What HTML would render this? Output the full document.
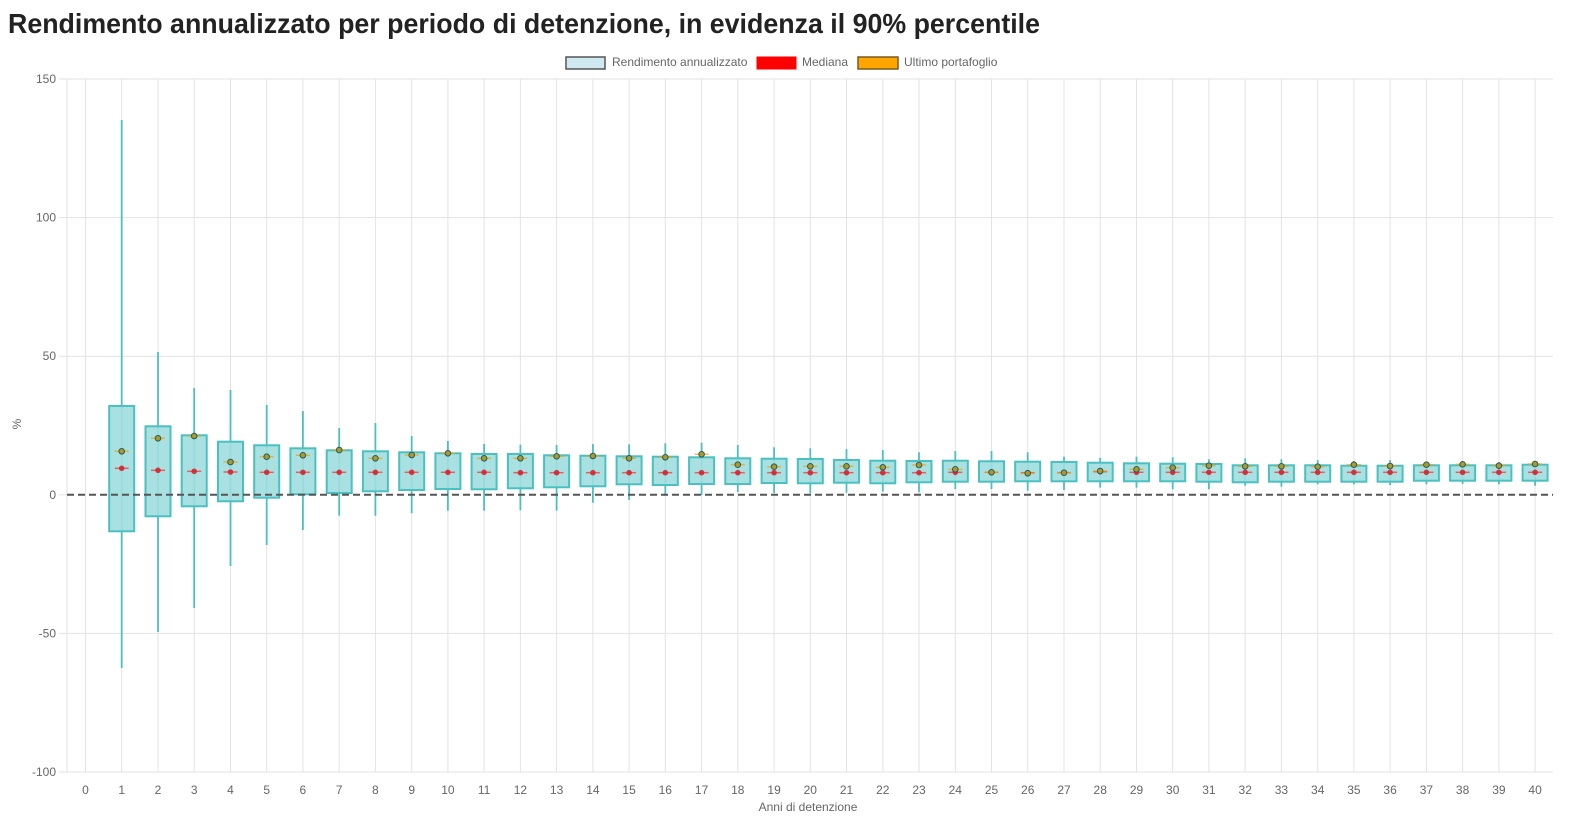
<!DOCTYPE html>
<html><head><meta charset="utf-8"><style>
html,body{margin:0;padding:0;background:#fff;}
svg{display:block;font-family:"Liberation Sans",Arial,sans-serif;}
</style></head><body>
<svg width="1573" height="837" viewBox="0 0 1573 837" xmlns="http://www.w3.org/2000/svg">
<text x="8" y="33" font-size="28" font-weight="bold" fill="#222" textLength="1032" lengthAdjust="spacingAndGlyphs">Rendimento annualizzato per periodo di detenzione, in evidenza il 90% percentile</text>
<rect x="566" y="57" width="39" height="12" fill="#d0e9f0" stroke="#555" stroke-width="1.5"/>
<text x="612" y="66" font-size="12" fill="#666">Rendimento annualizzato</text>
<rect x="757" y="57" width="39" height="12" fill="#ff0000" stroke="#ff0000" stroke-width="1"/>
<text x="802" y="66" font-size="12" fill="#666">Mediana</text>
<rect x="858" y="57" width="40" height="12" fill="#ffa500" stroke="#7a5a20" stroke-width="1.5"/>
<text x="904" y="66" font-size="12" fill="#666">Ultimo portafoglio</text>
<g stroke="#e3e3e3" stroke-width="1">
<line x1="59" y1="79" x2="1553" y2="79"/>
<line x1="59" y1="217.6" x2="1553" y2="217.6"/>
<line x1="59" y1="356.2" x2="1553" y2="356.2"/>
<line x1="59" y1="494.8" x2="67" y2="494.8"/>
<line x1="59" y1="633.4" x2="1553" y2="633.4"/>
<line x1="59" y1="772" x2="1553" y2="772"/>
<line x1="67" y1="79" x2="67" y2="772"/>
<line x1="85.5" y1="79" x2="85.5" y2="772"/><line x1="121.7" y1="79" x2="121.7" y2="772"/><line x1="158" y1="79" x2="158" y2="772"/><line x1="194.2" y1="79" x2="194.2" y2="772"/><line x1="230.5" y1="79" x2="230.5" y2="772"/><line x1="266.7" y1="79" x2="266.7" y2="772"/><line x1="302.9" y1="79" x2="302.9" y2="772"/><line x1="339.2" y1="79" x2="339.2" y2="772"/><line x1="375.4" y1="79" x2="375.4" y2="772"/><line x1="411.7" y1="79" x2="411.7" y2="772"/><line x1="447.9" y1="79" x2="447.9" y2="772"/><line x1="484.1" y1="79" x2="484.1" y2="772"/><line x1="520.4" y1="79" x2="520.4" y2="772"/><line x1="556.6" y1="79" x2="556.6" y2="772"/><line x1="592.9" y1="79" x2="592.9" y2="772"/><line x1="629.1" y1="79" x2="629.1" y2="772"/><line x1="665.3" y1="79" x2="665.3" y2="772"/><line x1="701.6" y1="79" x2="701.6" y2="772"/><line x1="737.8" y1="79" x2="737.8" y2="772"/><line x1="774.1" y1="79" x2="774.1" y2="772"/><line x1="810.3" y1="79" x2="810.3" y2="772"/><line x1="846.5" y1="79" x2="846.5" y2="772"/><line x1="882.8" y1="79" x2="882.8" y2="772"/><line x1="919" y1="79" x2="919" y2="772"/><line x1="955.3" y1="79" x2="955.3" y2="772"/><line x1="991.5" y1="79" x2="991.5" y2="772"/><line x1="1027.7" y1="79" x2="1027.7" y2="772"/><line x1="1064" y1="79" x2="1064" y2="772"/><line x1="1100.2" y1="79" x2="1100.2" y2="772"/><line x1="1136.5" y1="79" x2="1136.5" y2="772"/><line x1="1172.7" y1="79" x2="1172.7" y2="772"/><line x1="1208.9" y1="79" x2="1208.9" y2="772"/><line x1="1245.2" y1="79" x2="1245.2" y2="772"/><line x1="1281.4" y1="79" x2="1281.4" y2="772"/><line x1="1317.7" y1="79" x2="1317.7" y2="772"/><line x1="1353.9" y1="79" x2="1353.9" y2="772"/><line x1="1390.1" y1="79" x2="1390.1" y2="772"/><line x1="1426.4" y1="79" x2="1426.4" y2="772"/><line x1="1462.6" y1="79" x2="1462.6" y2="772"/><line x1="1498.9" y1="79" x2="1498.9" y2="772"/><line x1="1535.1" y1="79" x2="1535.1" y2="772"/>
</g>
<g font-size="12" fill="#666" text-anchor="end">
<text x="56" y="83">150</text>
<text x="56" y="221.6">100</text>
<text x="56" y="360.2">50</text>
<text x="56" y="498.8">0</text>
<text x="56" y="637.4">-50</text>
<text x="56" y="776">-100</text>
</g>
<text x="21" y="424" font-size="12" fill="#666" text-anchor="middle" transform="rotate(-90 21 424)">%</text>
<g font-size="12" fill="#666" text-anchor="middle">
<text x="85.5" y="794">0</text><text x="121.7" y="794">1</text><text x="158" y="794">2</text><text x="194.2" y="794">3</text><text x="230.5" y="794">4</text><text x="266.7" y="794">5</text><text x="302.9" y="794">6</text><text x="339.2" y="794">7</text><text x="375.4" y="794">8</text><text x="411.7" y="794">9</text><text x="447.9" y="794">10</text><text x="484.1" y="794">11</text><text x="520.4" y="794">12</text><text x="556.6" y="794">13</text><text x="592.9" y="794">14</text><text x="629.1" y="794">15</text><text x="665.3" y="794">16</text><text x="701.6" y="794">17</text><text x="737.8" y="794">18</text><text x="774.1" y="794">19</text><text x="810.3" y="794">20</text><text x="846.5" y="794">21</text><text x="882.8" y="794">22</text><text x="919" y="794">23</text><text x="955.3" y="794">24</text><text x="991.5" y="794">25</text><text x="1027.7" y="794">26</text><text x="1064" y="794">27</text><text x="1100.2" y="794">28</text><text x="1136.5" y="794">29</text><text x="1172.7" y="794">30</text><text x="1208.9" y="794">31</text><text x="1245.2" y="794">32</text><text x="1281.4" y="794">33</text><text x="1317.7" y="794">34</text><text x="1353.9" y="794">35</text><text x="1390.1" y="794">36</text><text x="1426.4" y="794">37</text><text x="1462.6" y="794">38</text><text x="1498.9" y="794">39</text><text x="1535.1" y="794">40</text>
</g>
<text x="808" y="811" font-size="12" fill="#666" text-anchor="middle">Anni di detenzione</text>
<g stroke="#4bc0c0" stroke-width="1.8">
<line x1="121.7" y1="120" x2="121.7" y2="668"/>
<line x1="158" y1="352" x2="158" y2="632"/>
<line x1="194.2" y1="388" x2="194.2" y2="608"/>
<line x1="230.5" y1="390" x2="230.5" y2="566"/>
<line x1="266.7" y1="405" x2="266.7" y2="545"/>
<line x1="302.9" y1="411" x2="302.9" y2="530"/>
<line x1="339.2" y1="428" x2="339.2" y2="515.7"/>
<line x1="375.4" y1="423" x2="375.4" y2="515.7"/>
<line x1="411.7" y1="436" x2="411.7" y2="513.3"/>
<line x1="447.9" y1="441" x2="447.9" y2="510.7"/>
<line x1="484.1" y1="444" x2="484.1" y2="510.7"/>
<line x1="520.4" y1="444.7" x2="520.4" y2="510.3"/>
<line x1="556.6" y1="445" x2="556.6" y2="510.7"/>
<line x1="592.9" y1="444" x2="592.9" y2="502.7"/>
<line x1="629.1" y1="444.3" x2="629.1" y2="500"/>
<line x1="665.3" y1="443.3" x2="665.3" y2="495.7"/>
<line x1="701.6" y1="442.7" x2="701.6" y2="495"/>
<line x1="737.8" y1="445" x2="737.8" y2="492"/>
<line x1="774.1" y1="447.3" x2="774.1" y2="493"/>
<line x1="810.3" y1="448.3" x2="810.3" y2="493.3"/>
<line x1="846.5" y1="449" x2="846.5" y2="492.7"/>
<line x1="882.8" y1="450" x2="882.8" y2="491.7"/>
<line x1="919" y1="452.3" x2="919" y2="492.3"/>
<line x1="955.3" y1="451" x2="955.3" y2="489"/>
<line x1="991.5" y1="451" x2="991.5" y2="489"/>
<line x1="1027.7" y1="452.3" x2="1027.7" y2="490.7"/>
<line x1="1064" y1="456.7" x2="1064" y2="490"/>
<line x1="1100.2" y1="457.7" x2="1100.2" y2="487.7"/>
<line x1="1136.5" y1="456.7" x2="1136.5" y2="487.7"/>
<line x1="1172.7" y1="457.3" x2="1172.7" y2="489.3"/>
<line x1="1208.9" y1="459.3" x2="1208.9" y2="489.3"/>
<line x1="1245.2" y1="458.3" x2="1245.2" y2="485.7"/>
<line x1="1281.4" y1="459.3" x2="1281.4" y2="486.7"/>
<line x1="1317.7" y1="460" x2="1317.7" y2="484.3"/>
<line x1="1353.9" y1="461" x2="1353.9" y2="484.3"/>
<line x1="1390.1" y1="460" x2="1390.1" y2="485"/>
<line x1="1426.4" y1="462" x2="1426.4" y2="484.3"/>
<line x1="1462.6" y1="462" x2="1462.6" y2="484"/>
<line x1="1498.9" y1="462" x2="1498.9" y2="484.3"/>
<line x1="1535.1" y1="462" x2="1535.1" y2="485.7"/>
</g>
<g fill="rgb(160,222,223)" fill-opacity="0.9" stroke="#4bc0c0" stroke-width="2">
<rect x="109.2" y="406" width="25" height="125.3"/>
<rect x="145.5" y="426.3" width="25" height="90"/>
<rect x="181.7" y="435.3" width="25" height="71"/>
<rect x="218" y="441.7" width="25" height="59.6"/>
<rect x="254.2" y="445.3" width="25" height="52.4"/>
<rect x="290.4" y="448.3" width="25" height="46"/>
<rect x="326.7" y="450.3" width="25" height="42.7"/>
<rect x="362.9" y="451.3" width="25" height="40"/>
<rect x="399.2" y="452.3" width="25" height="37.7"/>
<rect x="435.4" y="453.3" width="25" height="35.7"/>
<rect x="471.6" y="454" width="25" height="35.3"/>
<rect x="507.9" y="454" width="25" height="34.3"/>
<rect x="544.1" y="455.3" width="25" height="32"/>
<rect x="580.4" y="455.7" width="25" height="30.6"/>
<rect x="616.6" y="456.3" width="25" height="28"/>
<rect x="652.8" y="456.7" width="25" height="28.3"/>
<rect x="689.1" y="457.3" width="25" height="26.7"/>
<rect x="725.3" y="458.3" width="25" height="25.7"/>
<rect x="761.6" y="458.7" width="25" height="24.3"/>
<rect x="797.8" y="459" width="25" height="24.3"/>
<rect x="834" y="460" width="25" height="22.7"/>
<rect x="870.3" y="460.7" width="25" height="22.6"/>
<rect x="906.5" y="461" width="25" height="21.3"/>
<rect x="942.8" y="460.7" width="25" height="21"/>
<rect x="979" y="461.3" width="25" height="20.4"/>
<rect x="1015.2" y="461.7" width="25" height="19.6"/>
<rect x="1051.5" y="462" width="25" height="19.3"/>
<rect x="1087.7" y="462.7" width="25" height="18.6"/>
<rect x="1124" y="463.3" width="25" height="18"/>
<rect x="1160.2" y="463.7" width="25" height="17.6"/>
<rect x="1196.4" y="464" width="25" height="17.7"/>
<rect x="1232.7" y="465.3" width="25" height="17"/>
<rect x="1268.9" y="465.3" width="25" height="16.4"/>
<rect x="1305.2" y="465.3" width="25" height="16.4"/>
<rect x="1341.4" y="465.7" width="25" height="16"/>
<rect x="1377.6" y="465.7" width="25" height="16"/>
<rect x="1413.9" y="465.3" width="25" height="15.4"/>
<rect x="1450.1" y="465.3" width="25" height="15.4"/>
<rect x="1486.4" y="465.3" width="25" height="15.4"/>
<rect x="1522.6" y="464.7" width="25" height="16"/>
</g>
<line x1="67" y1="494.8" x2="1553" y2="494.8" stroke="#555" stroke-width="2" stroke-dasharray="7,4"/>
<g stroke="rgba(255,0,0,0.55)" stroke-width="1.5">
<line x1="114.7" y1="468.3" x2="128.7" y2="468.3"/><line x1="151" y1="470.3" x2="165" y2="470.3"/><line x1="187.2" y1="471.3" x2="201.2" y2="471.3"/><line x1="223.5" y1="472" x2="237.5" y2="472"/><line x1="259.7" y1="472.3" x2="273.7" y2="472.3"/><line x1="295.9" y1="472.3" x2="309.9" y2="472.3"/><line x1="332.2" y1="472.3" x2="346.2" y2="472.3"/><line x1="368.4" y1="472.3" x2="382.4" y2="472.3"/><line x1="404.7" y1="472.3" x2="418.7" y2="472.3"/><line x1="440.9" y1="472.3" x2="454.9" y2="472.3"/>
<line x1="477.1" y1="472.3" x2="491.1" y2="472.3"/><line x1="513.4" y1="472.7" x2="527.4" y2="472.7"/><line x1="549.6" y1="472.7" x2="563.6" y2="472.7"/><line x1="585.9" y1="472.7" x2="599.9" y2="472.7"/><line x1="622.1" y1="472.7" x2="636.1" y2="472.7"/><line x1="658.3" y1="472.7" x2="672.3" y2="472.7"/><line x1="694.6" y1="472.7" x2="708.6" y2="472.7"/><line x1="730.8" y1="472.7" x2="744.8" y2="472.7"/><line x1="767.1" y1="472.7" x2="781.1" y2="472.7"/><line x1="803.3" y1="472.7" x2="817.3" y2="472.7"/>
<line x1="839.5" y1="472.7" x2="853.5" y2="472.7"/><line x1="875.8" y1="472.7" x2="889.8" y2="472.7"/><line x1="912" y1="472.7" x2="926" y2="472.7"/><line x1="948.3" y1="472.3" x2="962.3" y2="472.3"/><line x1="984.5" y1="472.3" x2="998.5" y2="472.3"/><line x1="1020.7" y1="472.7" x2="1034.7" y2="472.7"/><line x1="1057" y1="472.7" x2="1071" y2="472.7"/><line x1="1093.2" y1="471.7" x2="1107.2" y2="471.7"/><line x1="1129.5" y1="472.3" x2="1143.5" y2="472.3"/><line x1="1165.7" y1="472.3" x2="1179.7" y2="472.3"/>
<line x1="1201.9" y1="472.3" x2="1215.9" y2="472.3"/><line x1="1238.2" y1="472.3" x2="1252.2" y2="472.3"/><line x1="1274.4" y1="472.3" x2="1288.4" y2="472.3"/><line x1="1310.7" y1="472.3" x2="1324.7" y2="472.3"/><line x1="1346.9" y1="472.3" x2="1360.9" y2="472.3"/><line x1="1383.1" y1="472.3" x2="1397.1" y2="472.3"/><line x1="1419.4" y1="472.3" x2="1433.4" y2="472.3"/><line x1="1455.6" y1="472.3" x2="1469.6" y2="472.3"/><line x1="1491.9" y1="472.3" x2="1505.9" y2="472.3"/><line x1="1528.1" y1="472.3" x2="1542.1" y2="472.3"/>
</g>
<g fill="rgba(215,35,45,0.9)">
<circle cx="121.7" cy="468.3" r="2.8"/><circle cx="158" cy="470.3" r="2.8"/><circle cx="194.2" cy="471.3" r="2.8"/><circle cx="230.5" cy="472" r="2.8"/><circle cx="266.7" cy="472.3" r="2.8"/><circle cx="302.9" cy="472.3" r="2.8"/><circle cx="339.2" cy="472.3" r="2.8"/><circle cx="375.4" cy="472.3" r="2.8"/><circle cx="411.7" cy="472.3" r="2.8"/><circle cx="447.9" cy="472.3" r="2.8"/>
<circle cx="484.1" cy="472.3" r="2.8"/><circle cx="520.4" cy="472.7" r="2.8"/><circle cx="556.6" cy="472.7" r="2.8"/><circle cx="592.9" cy="472.7" r="2.8"/><circle cx="629.1" cy="472.7" r="2.8"/><circle cx="665.3" cy="472.7" r="2.8"/><circle cx="701.6" cy="472.7" r="2.8"/><circle cx="737.8" cy="472.7" r="2.8"/><circle cx="774.1" cy="472.7" r="2.8"/><circle cx="810.3" cy="472.7" r="2.8"/>
<circle cx="846.5" cy="472.7" r="2.8"/><circle cx="882.8" cy="472.7" r="2.8"/><circle cx="919" cy="472.7" r="2.8"/><circle cx="955.3" cy="472.3" r="2.8"/><circle cx="991.5" cy="472.3" r="2.8"/><circle cx="1027.7" cy="472.7" r="2.8"/><circle cx="1064" cy="472.7" r="2.8"/><circle cx="1100.2" cy="471.7" r="2.8"/><circle cx="1136.5" cy="472.3" r="2.8"/><circle cx="1172.7" cy="472.3" r="2.8"/>
<circle cx="1208.9" cy="472.3" r="2.8"/><circle cx="1245.2" cy="472.3" r="2.8"/><circle cx="1281.4" cy="472.3" r="2.8"/><circle cx="1317.7" cy="472.3" r="2.8"/><circle cx="1353.9" cy="472.3" r="2.8"/><circle cx="1390.1" cy="472.3" r="2.8"/><circle cx="1426.4" cy="472.3" r="2.8"/><circle cx="1462.6" cy="472.3" r="2.8"/><circle cx="1498.9" cy="472.3" r="2.8"/><circle cx="1535.1" cy="472.3" r="2.8"/>
</g>
<g stroke="rgba(240,160,20,0.7)" stroke-width="1.5">
<line x1="114.7" y1="451.3" x2="128.7" y2="451.3"/><line x1="151" y1="438.3" x2="165" y2="438.3"/><line x1="187.2" y1="436" x2="201.2" y2="436"/><line x1="223.5" y1="462" x2="237.5" y2="462"/><line x1="259.7" y1="456.7" x2="273.7" y2="456.7"/><line x1="295.9" y1="455.3" x2="309.9" y2="455.3"/><line x1="332.2" y1="450" x2="346.2" y2="450"/><line x1="368.4" y1="458.3" x2="382.4" y2="458.3"/><line x1="404.7" y1="455" x2="418.7" y2="455"/><line x1="440.9" y1="453.3" x2="454.9" y2="453.3"/>
<line x1="477.1" y1="458.3" x2="491.1" y2="458.3"/><line x1="513.4" y1="458.3" x2="527.4" y2="458.3"/><line x1="549.6" y1="456.3" x2="563.6" y2="456.3"/><line x1="585.9" y1="456" x2="599.9" y2="456"/><line x1="622.1" y1="458.3" x2="636.1" y2="458.3"/><line x1="658.3" y1="457.3" x2="672.3" y2="457.3"/><line x1="694.6" y1="454.3" x2="708.6" y2="454.3"/><line x1="730.8" y1="464.7" x2="744.8" y2="464.7"/><line x1="767.1" y1="466.7" x2="781.1" y2="466.7"/><line x1="803.3" y1="466.3" x2="817.3" y2="466.3"/>
<line x1="839.5" y1="466.3" x2="853.5" y2="466.3"/><line x1="875.8" y1="467.3" x2="889.8" y2="467.3"/><line x1="912" y1="465" x2="926" y2="465"/><line x1="948.3" y1="469.3" x2="962.3" y2="469.3"/><line x1="984.5" y1="472.3" x2="998.5" y2="472.3"/><line x1="1020.7" y1="473.3" x2="1034.7" y2="473.3"/><line x1="1057" y1="472.7" x2="1071" y2="472.7"/><line x1="1093.2" y1="471" x2="1107.2" y2="471"/><line x1="1129.5" y1="469.3" x2="1143.5" y2="469.3"/><line x1="1165.7" y1="467.7" x2="1179.7" y2="467.7"/>
<line x1="1201.9" y1="465.7" x2="1215.9" y2="465.7"/><line x1="1238.2" y1="466.3" x2="1252.2" y2="466.3"/><line x1="1274.4" y1="466.3" x2="1288.4" y2="466.3"/><line x1="1310.7" y1="466.7" x2="1324.7" y2="466.7"/><line x1="1346.9" y1="464.7" x2="1360.9" y2="464.7"/><line x1="1383.1" y1="466" x2="1397.1" y2="466"/><line x1="1419.4" y1="464.7" x2="1433.4" y2="464.7"/><line x1="1455.6" y1="464.3" x2="1469.6" y2="464.3"/><line x1="1491.9" y1="465.7" x2="1505.9" y2="465.7"/><line x1="1528.1" y1="464" x2="1542.1" y2="464"/>
</g>
<g fill="#a89a2e" stroke="#2d5a55" stroke-width="1">
<circle cx="121.7" cy="451.3" r="2.8"/><circle cx="158" cy="438.3" r="2.8"/><circle cx="194.2" cy="436" r="2.8"/><circle cx="230.5" cy="462" r="2.8"/><circle cx="266.7" cy="456.7" r="2.8"/><circle cx="302.9" cy="455.3" r="2.8"/><circle cx="339.2" cy="450" r="2.8"/><circle cx="375.4" cy="458.3" r="2.8"/><circle cx="411.7" cy="455" r="2.8"/><circle cx="447.9" cy="453.3" r="2.8"/>
<circle cx="484.1" cy="458.3" r="2.8"/><circle cx="520.4" cy="458.3" r="2.8"/><circle cx="556.6" cy="456.3" r="2.8"/><circle cx="592.9" cy="456" r="2.8"/><circle cx="629.1" cy="458.3" r="2.8"/><circle cx="665.3" cy="457.3" r="2.8"/><circle cx="701.6" cy="454.3" r="2.8"/><circle cx="737.8" cy="464.7" r="2.8"/><circle cx="774.1" cy="466.7" r="2.8"/><circle cx="810.3" cy="466.3" r="2.8"/>
<circle cx="846.5" cy="466.3" r="2.8"/><circle cx="882.8" cy="467.3" r="2.8"/><circle cx="919" cy="465" r="2.8"/><circle cx="955.3" cy="469.3" r="2.8"/><circle cx="991.5" cy="472.3" r="2.8"/><circle cx="1027.7" cy="473.3" r="2.8"/><circle cx="1064" cy="472.7" r="2.8"/><circle cx="1100.2" cy="471" r="2.8"/><circle cx="1136.5" cy="469.3" r="2.8"/><circle cx="1172.7" cy="467.7" r="2.8"/>
<circle cx="1208.9" cy="465.7" r="2.8"/><circle cx="1245.2" cy="466.3" r="2.8"/><circle cx="1281.4" cy="466.3" r="2.8"/><circle cx="1317.7" cy="466.7" r="2.8"/><circle cx="1353.9" cy="464.7" r="2.8"/><circle cx="1390.1" cy="466" r="2.8"/><circle cx="1426.4" cy="464.7" r="2.8"/><circle cx="1462.6" cy="464.3" r="2.8"/><circle cx="1498.9" cy="465.7" r="2.8"/><circle cx="1535.1" cy="464" r="2.8"/>
</g>
</svg>
</body></html>
